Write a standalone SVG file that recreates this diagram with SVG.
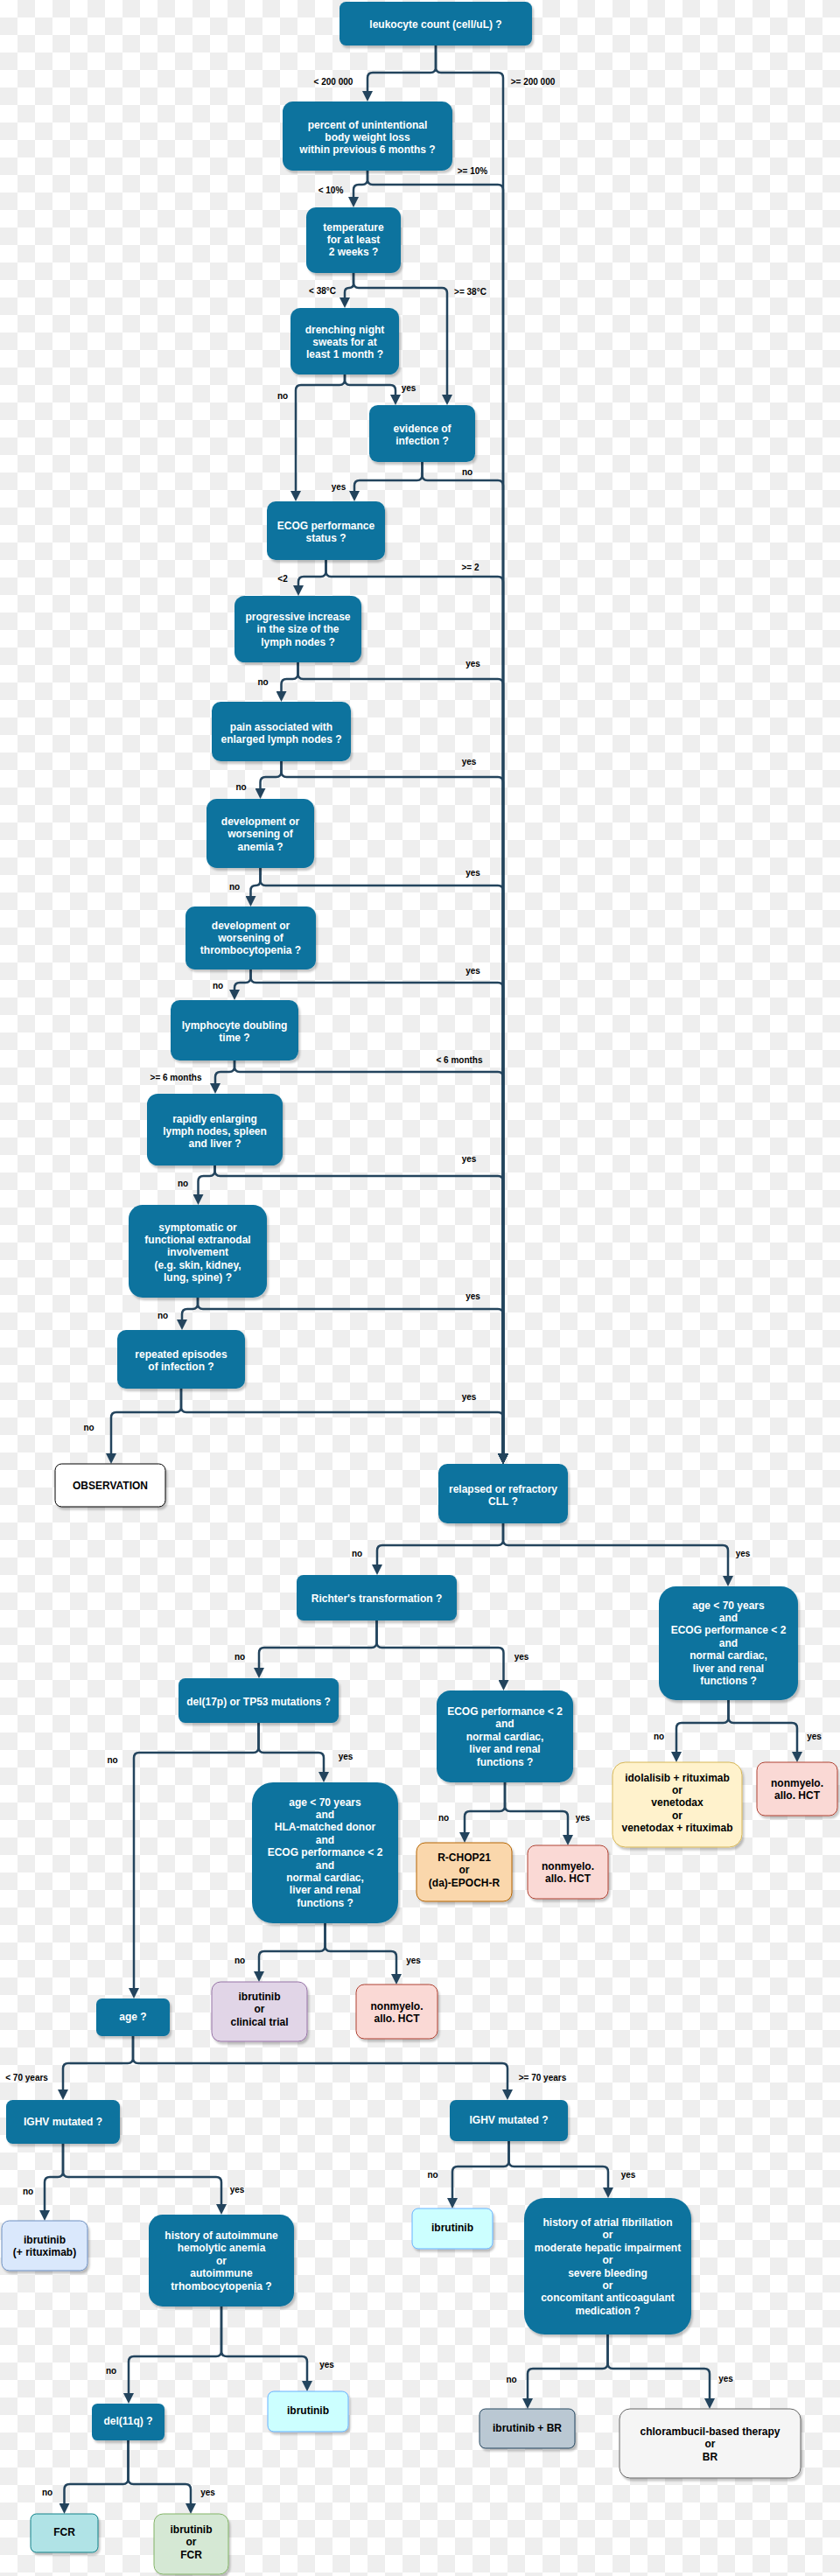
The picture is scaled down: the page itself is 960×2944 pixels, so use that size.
<svg xmlns="http://www.w3.org/2000/svg" width="960" height="2944" viewBox="0 0 960 2944">
<defs>
<pattern id="chk" x="0" y="0" width="40" height="40" patternUnits="userSpaceOnUse">
<rect width="40" height="40" fill="#ffffff"/>
<rect x="20" y="0" width="20" height="20" fill="#eeeeee"/>
<rect x="0" y="20" width="20" height="20" fill="#eeeeee"/>
</pattern>
<filter id="sh" x="-10%" y="-10%" width="130%" height="130%">
<feDropShadow dx="2" dy="3" stdDeviation="1" flood-color="#000" flood-opacity="0.22"/>
</filter>
<marker id="ah" markerUnits="userSpaceOnUse" markerWidth="12" markerHeight="12" refX="8" refY="6" orient="auto">
<path d="M0,0 L12,6 L0,12 z" fill="#23445d"/>
</marker>
<style>
.t{font-family:"Liberation Sans",Arial,Helvetica,sans-serif;font-size:12px;font-weight:bold;text-anchor:middle}
.w{fill:#ffffff}
.k{fill:#000000}
.b{fill:#10739e}
.n rect{filter:url(#sh)}
.e path{fill:none;stroke:#23445d;stroke-width:2.5;marker-end:url(#ah)}
.l{font-family:"Liberation Sans",Arial,Helvetica,sans-serif;font-size:10px;font-weight:bold;text-anchor:middle;fill:#000000}
</style>
</defs>
<rect width="960" height="2944" fill="url(#chk)"/>

<g id="connectors" class="e">
<path d="M498,52 V77 Q498,83 492,83 H426 Q420,83 420,89 V112"/>
<path d="M498,52 V77 Q498,83 504,83 H569 Q575,83 575,89 V1669"/>
<path d="M420,195 V205 Q420,211 414,211 H410 Q404,211 404,217 V233"/>
<path d="M420,195 V205 Q420,211 426,211 H569 Q575,211 575,217 V1669"/>
<path d="M404,312 V324 Q404,329 399,329 Q394,329 394,334 V348"/>
<path d="M404,312 V323 Q404,329 410,329 H505 Q511,329 511,335 V459"/>
<path d="M394,428 V434 Q394,440 388,440 H344 Q338,440 338,446 V569"/>
<path d="M394,428 V434 Q394,440 400,440 H446 Q452,440 452,446 V459"/>
<path d="M482.5,528 V543 Q482.5,549 476.5,549 H411 Q405,549 405,555 V569"/>
<path d="M482.5,528 V543 Q482.5,549 488.5,549 H569 Q575,549 575,555 V1669"/>
<path d="M372.5,640 V653 Q372.5,659 366.5,659 H347 Q341,659 341,665 V677"/>
<path d="M372.5,640 V653 Q372.5,659 378.5,659 H569 Q575,659 575,665 V1669"/>
<path d="M340.5,757 V770 Q340.5,776 334.5,776 H327.5 Q321.5,776 321.5,782 V798"/>
<path d="M340.5,757 V770 Q340.5,776 346.5,776 H569 Q575,776 575,782 V1669"/>
<path d="M321.5,870 V882 Q321.5,888 315.5,888 H303.5 Q297.5,888 297.5,894 V909"/>
<path d="M321.5,870 V882 Q321.5,888 327.5,888 H569 Q575,888 575,894 V1669"/>
<path d="M297.5,992 V1006.5 Q297.5,1012 292,1012 Q286.5,1012 286.5,1017.5 V1032"/>
<path d="M297.5,992 V1006 Q297.5,1012 303.5,1012 H569 Q575,1012 575,1018 V1669"/>
<path d="M286.5,1108 V1117 Q286.5,1123 280.5,1123 H274 Q268,1123 268,1129 V1139"/>
<path d="M286.5,1108 V1117 Q286.5,1123 292.5,1123 H569 Q575,1123 575,1129 V1669"/>
<path d="M268,1212 V1219 Q268,1225 262,1225 H252 Q246,1225 246,1231 V1246"/>
<path d="M268,1212 V1219 Q268,1225 274,1225 H569 Q575,1225 575,1231 V1669"/>
<path d="M245.5,1332 V1338 Q245.5,1344 239.5,1344 H232.5 Q226.5,1344 226.5,1350 V1373"/>
<path d="M245.5,1332 V1338 Q245.5,1344 251.5,1344 H569 Q575,1344 575,1350 V1669"/>
<path d="M226,1483 V1490 Q226,1496 220,1496 H214 Q208,1496 208,1502 V1516"/>
<path d="M226,1483 V1490 Q226,1496 232,1496 H569 Q575,1496 575,1502 V1669"/>
<path d="M207,1587 V1608 Q207,1614 201,1614 H133 Q127,1614 127,1620 V1669"/>
<path d="M207,1587 V1608 Q207,1614 213,1614 H569 Q575,1614 575,1620 V1669"/>
<path d="M575,1741 V1760 Q575,1766 569,1766 H437 Q431,1766 431,1772 V1796"/>
<path d="M575,1741 V1760 Q575,1766 581,1766 H826 Q832,1766 832,1772 V1809"/>
<path d="M430.5,1852 V1877 Q430.5,1883 424.5,1883 H302 Q296,1883 296,1889 V1914"/>
<path d="M430.5,1852 V1877 Q430.5,1883 436.5,1883 H569.5 Q575.5,1883 575.5,1889 V1928"/>
<path d="M295.5,1969 V1997 Q295.5,2003 289.5,2003 H159 Q153,2003 153,2009 V2280"/>
<path d="M295.5,1969 V1997 Q295.5,2003 301.5,2003 H364 Q370,2003 370,2009 V2033"/>
<path d="M832.5,1943 V1963 Q832.5,1969 826.5,1969 H779 Q773,1969 773,1975 V2010"/>
<path d="M832.5,1943 V1963 Q832.5,1969 838.5,1969 H905 Q911,1969 911,1975 V2010"/>
<path d="M577,2037 V2064 Q577,2070 571,2070 H537 Q531,2070 531,2076 V2102"/>
<path d="M577,2037 V2064 Q577,2070 583,2070 H643 Q649,2070 649,2076 V2105"/>
<path d="M371.5,2198 V2224 Q371.5,2230 365.5,2230 H302 Q296,2230 296,2236 V2261"/>
<path d="M371.5,2198 V2224 Q371.5,2230 377.5,2230 H447 Q453,2230 453,2236 V2264"/>
<path d="M152,2327 V2352 Q152,2358 146,2358 H78 Q72,2358 72,2364 V2396"/>
<path d="M152,2327 V2352 Q152,2358 158,2358 H574 Q580,2358 580,2364 V2396"/>
<path d="M72,2450 V2482 Q72,2488 66,2488 H57 Q51,2488 51,2494 V2534"/>
<path d="M72,2450 V2482 Q72,2488 78,2488 H247 Q253,2488 253,2494 V2527"/>
<path d="M581.5,2447 V2470 Q581.5,2476 575.5,2476 H523 Q517,2476 517,2482 V2520"/>
<path d="M581.5,2447 V2470 Q581.5,2476 587.5,2476 H689 Q695,2476 695,2482 V2508"/>
<path d="M253,2636 V2687 Q253,2693 247,2693 H153 Q147,2693 147,2699 V2743"/>
<path d="M253,2636 V2687 Q253,2693 259,2693 H345 Q351,2693 351,2699 V2729"/>
<path d="M146.5,2789 V2833 Q146.5,2839 140.5,2839 H79.5 Q73.5,2839 73.5,2845 V2869"/>
<path d="M146.5,2789 V2833 Q146.5,2839 152.5,2839 H212 Q218,2839 218,2845 V2869"/>
<path d="M694.5,2668 V2701 Q694.5,2707 688.5,2707 H609 Q603,2707 603,2713 V2749"/>
<path d="M694.5,2668 V2701 Q694.5,2707 700.5,2707 H805 Q811,2707 811,2713 V2749"/>
<g id="labels">
<text class="l" x="381" y="96.5">&lt; 200 000</text>
<text class="l" x="609" y="96.5">&gt;= 200 000</text>
<text class="l" x="540" y="198.5">&gt;= 10%</text>
<text class="l" x="378" y="220.5">&lt; 10%</text>
<text class="l" x="368.5" y="335.5">&lt; 38°C</text>
<text class="l" x="537.5" y="336.5">&gt;= 38°C</text>
<text class="l" x="323" y="455.5">no</text>
<text class="l" x="467" y="446.5">yes</text>
<text class="l" x="534" y="542.5">no</text>
<text class="l" x="387" y="559.5">yes</text>
<text class="l" x="537.5" y="651.5">&gt;= 2</text>
<text class="l" x="323" y="664.5">&lt;2</text>
<text class="l" x="540.5" y="761.5">yes</text>
<text class="l" x="300.5" y="782.5">no</text>
<text class="l" x="536" y="873.5">yes</text>
<text class="l" x="275.5" y="902.5">no</text>
<text class="l" x="540.5" y="1000.5">yes</text>
<text class="l" x="268" y="1016.5">no</text>
<text class="l" x="540.5" y="1112.5">yes</text>
<text class="l" x="249" y="1129.5">no</text>
<text class="l" x="525" y="1214.5">&lt; 6 months</text>
<text class="l" x="201" y="1234.5">&gt;= 6 months</text>
<text class="l" x="536" y="1327.5">yes</text>
<text class="l" x="209" y="1355.5">no</text>
<text class="l" x="540.5" y="1484.5">yes</text>
<text class="l" x="186" y="1506.5">no</text>
<text class="l" x="536" y="1599.5">yes</text>
<text class="l" x="101.6" y="1634.5">no</text>
<text class="l" x="408" y="1778.5">no</text>
<text class="l" x="849" y="1778.5">yes</text>
<text class="l" x="274" y="1896.5">no</text>
<text class="l" x="596" y="1896.5">yes</text>
<text class="l" x="128.6" y="2014.5">no</text>
<text class="l" x="395" y="2010.5">yes</text>
<text class="l" x="753" y="1987.5">no</text>
<text class="l" x="930.5" y="1987.5">yes</text>
<text class="l" x="507" y="2080.5">no</text>
<text class="l" x="666" y="2080.5">yes</text>
<text class="l" x="274" y="2243.5">no</text>
<text class="l" x="472.6" y="2243.5">yes</text>
<text class="l" x="30.6" y="2377.5">&lt; 70 years</text>
<text class="l" x="620" y="2377.5">&gt;= 70 years</text>
<text class="l" x="32" y="2507.5">no</text>
<text class="l" x="271" y="2505.5">yes</text>
<text class="l" x="494.6" y="2488.5">no</text>
<text class="l" x="718" y="2488.5">yes</text>
<text class="l" x="127" y="2712.5">no</text>
<text class="l" x="373.5" y="2705.5">yes</text>
<text class="l" x="54" y="2851.5">no</text>
<text class="l" x="237.5" y="2851.5">yes</text>
<text class="l" x="584.6" y="2722.5">no</text>
<text class="l" x="829.5" y="2721.5">yes</text>
</g>
</g>

<g id="n1" class="n"><rect class="b" x="388" y="2" width="220" height="50" rx="7.5"/><text class="t w" x="498" y="32">leukocyte count (cell/uL) ?</text></g>
<g id="n2" class="n"><rect class="b" x="323" y="116" width="194" height="79" rx="11.9"/><text class="t w" x="420" y="146.5">percent of unintentional<tspan x="420" dy="14.4">body weight loss</tspan><tspan x="420" dy="14.4">within previous 6 months ?</tspan></text></g>
<g id="n3" class="n"><rect class="b" x="350" y="237" width="108" height="75" rx="11.3"/><text class="t w" x="404" y="263.5">temperature<tspan x="404" dy="14.4">for at least</tspan><tspan x="404" dy="14.4">2 weeks ?</tspan></text></g>
<g id="n4" class="n"><rect class="b" x="332" y="352" width="124" height="76" rx="11.4"/><text class="t w" x="394" y="380.5">drenching night<tspan x="394" dy="14.4">sweats for at</tspan><tspan x="394" dy="14.4">least 1 month ?</tspan></text></g>
<g id="n5" class="n"><rect class="b" x="422" y="463" width="121" height="65" rx="9.8"/><text class="t w" x="482.5" y="493.5">evidence of<tspan x="482.5" dy="14.4">infection ?</tspan></text></g>
<g id="n6" class="n"><rect class="b" x="305" y="573" width="135" height="67" rx="10"/><text class="t w" x="372.5" y="605">ECOG performance<tspan x="372.5" dy="14.4">status ?</tspan></text></g>
<g id="n7" class="n"><rect class="b" x="268" y="681" width="145" height="76" rx="11.4"/><text class="t w" x="340.5" y="709">progressive increase<tspan x="340.5" dy="14.4">in the size of the</tspan><tspan x="340.5" dy="14.4">lymph nodes ?</tspan></text></g>
<g id="n8" class="n"><rect class="b" x="242" y="802" width="159" height="68" rx="10.2"/><text class="t w" x="321.5" y="834.5">pain associated with<tspan x="321.5" dy="14.4">enlarged lymph nodes ?</tspan></text></g>
<g id="n9" class="n"><rect class="b" x="236" y="913" width="123" height="79" rx="11.9"/><text class="t w" x="297.5" y="943">development or<tspan x="297.5" dy="14.4">worsening of</tspan><tspan x="297.5" dy="14.4">anemia ?</tspan></text></g>
<g id="n10" class="n"><rect class="b" x="212" y="1036" width="149" height="72" rx="10.8"/><text class="t w" x="286.5" y="1061.5">development or<tspan x="286.5" dy="14.4">worsening of</tspan><tspan x="286.5" dy="14.4">thrombocytopenia ?</tspan></text></g>
<g id="n11" class="n"><rect class="b" x="195" y="1143" width="146" height="69" rx="10.4"/><text class="t w" x="268" y="1176">lymphocyte doubling<tspan x="268" dy="14.4">time ?</tspan></text></g>
<g id="n12" class="n"><rect class="b" x="168" y="1250" width="155" height="82" rx="12.3"/><text class="t w" x="245.5" y="1282.5">rapidly enlarging<tspan x="245.5" dy="14.4">lymph nodes, spleen</tspan><tspan x="245.5" dy="14.4">and liver ?</tspan></text></g>
<g id="n13" class="n"><rect class="b" x="147" y="1377" width="158" height="106" rx="15.9"/><text class="t w" x="226" y="1406.5">symptomatic or<tspan x="226" dy="14.4">functional extranodal</tspan><tspan x="226" dy="14.4">involvement</tspan><tspan x="226" dy="14.4">(e.g. skin, kidney,</tspan><tspan x="226" dy="14.4">lung, spine) ?</tspan></text></g>
<g id="n14" class="n"><rect class="b" x="134" y="1520" width="146" height="67" rx="10"/><text class="t w" x="207" y="1552">repeated episodes<tspan x="207" dy="14.4">of infection ?</tspan></text></g>
<g id="n15" class="n"><rect x="63" y="1673" width="126" height="49" rx="7.4" fill="#ffffff" stroke="#000000" stroke-width="1"/><text class="t k" x="126" y="1702">OBSERVATION</text></g>
<g id="n16" class="n"><rect class="b" x="501" y="1673" width="148" height="68" rx="10.2"/><text class="t w" x="575" y="1705.5">relapsed or refractory<tspan x="575" dy="14.4">CLL ?</tspan></text></g>
<g id="n17" class="n"><rect class="b" x="339" y="1800" width="183" height="52" rx="7.8"/><text class="t w" x="430.5" y="1831">Richter's transformation ?</text></g>
<g id="n18" class="n"><rect class="b" x="753" y="1813" width="159" height="130" rx="19.5"/><text class="t w" x="832.5" y="1838.5">age &lt; 70 years<tspan x="832.5" dy="14.4">and</tspan><tspan x="832.5" dy="14.4">ECOG performance &lt; 2</tspan><tspan x="832.5" dy="14.4">and</tspan><tspan x="832.5" dy="14.4">normal cardiac,</tspan><tspan x="832.5" dy="14.4">liver and renal</tspan><tspan x="832.5" dy="14.4">functions ?</tspan></text></g>
<g id="n19" class="n"><rect class="b" x="204" y="1918" width="183" height="51" rx="7.7"/><text class="t w" x="295.5" y="1949">del(17p) or TP53 mutations ?</text></g>
<g id="n20" class="n"><rect class="b" x="499" y="1932" width="156" height="105" rx="15.8"/><text class="t w" x="577" y="1960">ECOG performance &lt; 2<tspan x="577" dy="14.4">and</tspan><tspan x="577" dy="14.4">normal cardiac,</tspan><tspan x="577" dy="14.4">liver and renal</tspan><tspan x="577" dy="14.4">functions ?</tspan></text></g>
<g id="n21" class="n"><rect x="700" y="2014" width="148" height="97" rx="14.6" fill="#fff2cc" stroke="#d6b656"/><text class="t k" x="774" y="2035.5">idolalisib + rituximab<tspan x="774" dy="14.4">or</tspan><tspan x="774" dy="14.4">venetodax</tspan><tspan x="774" dy="14.4">or</tspan><tspan x="774" dy="14.4">venetodax + rituximab</tspan></text></g>
<g id="n22" class="n"><rect x="865" y="2014" width="92" height="61" rx="9.2" fill="#fad9d5" stroke="#ae4132"/><text class="t k" x="911" y="2042">nonmyelo.<tspan x="911" dy="14.4">allo. HCT</tspan></text></g>
<g id="n23" class="n"><rect class="b" x="288" y="2037" width="167" height="161" rx="24"/><text class="t w" x="371.5" y="2063.5">age &lt; 70 years<tspan x="371.5" dy="14.4">and</tspan><tspan x="371.5" dy="14.4">HLA-matched donor</tspan><tspan x="371.5" dy="14.4">and</tspan><tspan x="371.5" dy="14.4">ECOG performance &lt; 2</tspan><tspan x="371.5" dy="14.4">and</tspan><tspan x="371.5" dy="14.4">normal cardiac,</tspan><tspan x="371.5" dy="14.4">liver and renal</tspan><tspan x="371.5" dy="14.4">functions ?</tspan></text></g>
<g id="n24" class="n"><rect x="476" y="2106" width="109" height="67" rx="10" fill="#fad7ac" stroke="#b46504"/><text class="t k" x="530.5" y="2127">R-CHOP21<tspan x="530.5" dy="14.4">or</tspan><tspan x="530.5" dy="14.4">(da)-EPOCH-R</tspan></text></g>
<g id="n25" class="n"><rect x="603" y="2109" width="92" height="61" rx="9.2" fill="#fad9d5" stroke="#ae4132"/><text class="t k" x="649" y="2137">nonmyelo.<tspan x="649" dy="14.4">allo. HCT</tspan></text></g>
<g id="n26" class="n"><rect x="242" y="2265" width="109" height="68" rx="10.2" fill="#e1d5e7" stroke="#9673a6"/><text class="t k" x="296.5" y="2286">ibrutinib<tspan x="296.5" dy="14.4">or</tspan><tspan x="296.5" dy="14.4">clinical trial</tspan></text></g>
<g id="n27" class="n"><rect x="407" y="2268" width="93" height="62" rx="9.3" fill="#fad9d5" stroke="#ae4132"/><text class="t k" x="453.5" y="2297">nonmyelo.<tspan x="453.5" dy="14.4">allo. HCT</tspan></text></g>
<g id="n28" class="n"><rect class="b" x="110" y="2284" width="84" height="43" rx="6.5"/><text class="t w" x="152" y="2309">age ?</text></g>
<g id="n29" class="n"><rect class="b" x="7" y="2400" width="130" height="50" rx="7.5"/><text class="t w" x="72" y="2429">IGHV mutated ?</text></g>
<g id="n30" class="n"><rect class="b" x="514" y="2400" width="135" height="47" rx="7"/><text class="t w" x="581.5" y="2427">IGHV mutated ?</text></g>
<g id="n31" class="n"><rect x="2" y="2538" width="98" height="57" rx="8.6" fill="#dae8fc" stroke="#6c8ebf"/><text class="t k" x="51" y="2563.5">ibrutinib<tspan x="51" dy="14.4">(+ rituximab)</tspan></text></g>
<g id="n32" class="n"><rect class="b" x="170" y="2531" width="166" height="105" rx="15.8"/><text class="t w" x="253" y="2559">history of autoimmune<tspan x="253" dy="14.4">hemolytic anemia</tspan><tspan x="253" dy="14.4">or</tspan><tspan x="253" dy="14.4">autoimmune</tspan><tspan x="253" dy="14.4">trhombocytopenia ?</tspan></text></g>
<g id="n33" class="n"><rect x="471" y="2524" width="92" height="46" rx="6.9" fill="#ccffff" stroke="#66b2ff"/><text class="t k" x="517" y="2550">ibrutinib</text></g>
<g id="n34" class="n"><rect class="b" x="599" y="2512" width="191" height="156" rx="23.4"/><text class="t w" x="694.5" y="2544">history of atrial fibrillation<tspan x="694.5" dy="14.4">or</tspan><tspan x="694.5" dy="14.4">moderate hepatic impairment</tspan><tspan x="694.5" dy="14.4">or</tspan><tspan x="694.5" dy="14.4">severe bleeding</tspan><tspan x="694.5" dy="14.4">or</tspan><tspan x="694.5" dy="14.4">concomitant anticoagulant</tspan><tspan x="694.5" dy="14.4">medication ?</tspan></text></g>
<g id="n35" class="n"><rect class="b" x="105" y="2747" width="83" height="42" rx="6.3"/><text class="t w" x="146.5" y="2771">del(11q) ?</text></g>
<g id="n36" class="n"><rect x="306" y="2733" width="92" height="46" rx="6.9" fill="#ccffff" stroke="#66b2ff"/><text class="t k" x="352" y="2759">ibrutinib</text></g>
<g id="n37" class="n"><rect x="35" y="2873" width="77" height="44" rx="6.6" fill="#b0e3e6" stroke="#0e8088"/><text class="t k" x="73.5" y="2897.5">FCR</text></g>
<g id="n38" class="n"><rect x="176" y="2873" width="85" height="69" rx="10.4" fill="#d5e8d4" stroke="#82b366"/><text class="t k" x="218.5" y="2895">ibrutinib<tspan x="218.5" dy="14.4">or</tspan><tspan x="218.5" dy="14.4">FCR</tspan></text></g>
<g id="n39" class="n"><rect x="548" y="2753" width="109" height="45" rx="6.8" fill="#bac8d3" stroke="#23445d"/><text class="t k" x="602.5" y="2779">ibrutinib + BR</text></g>
<g id="n40" class="n"><rect x="708" y="2753" width="207" height="79" rx="11.9" fill="#f5f5f5" stroke="#666666"/><text class="t k" x="811.5" y="2783">chlorambucil-based therapy<tspan x="811.5" dy="14.4">or</tspan><tspan x="811.5" dy="14.4">BR</tspan></text></g>
</svg>
